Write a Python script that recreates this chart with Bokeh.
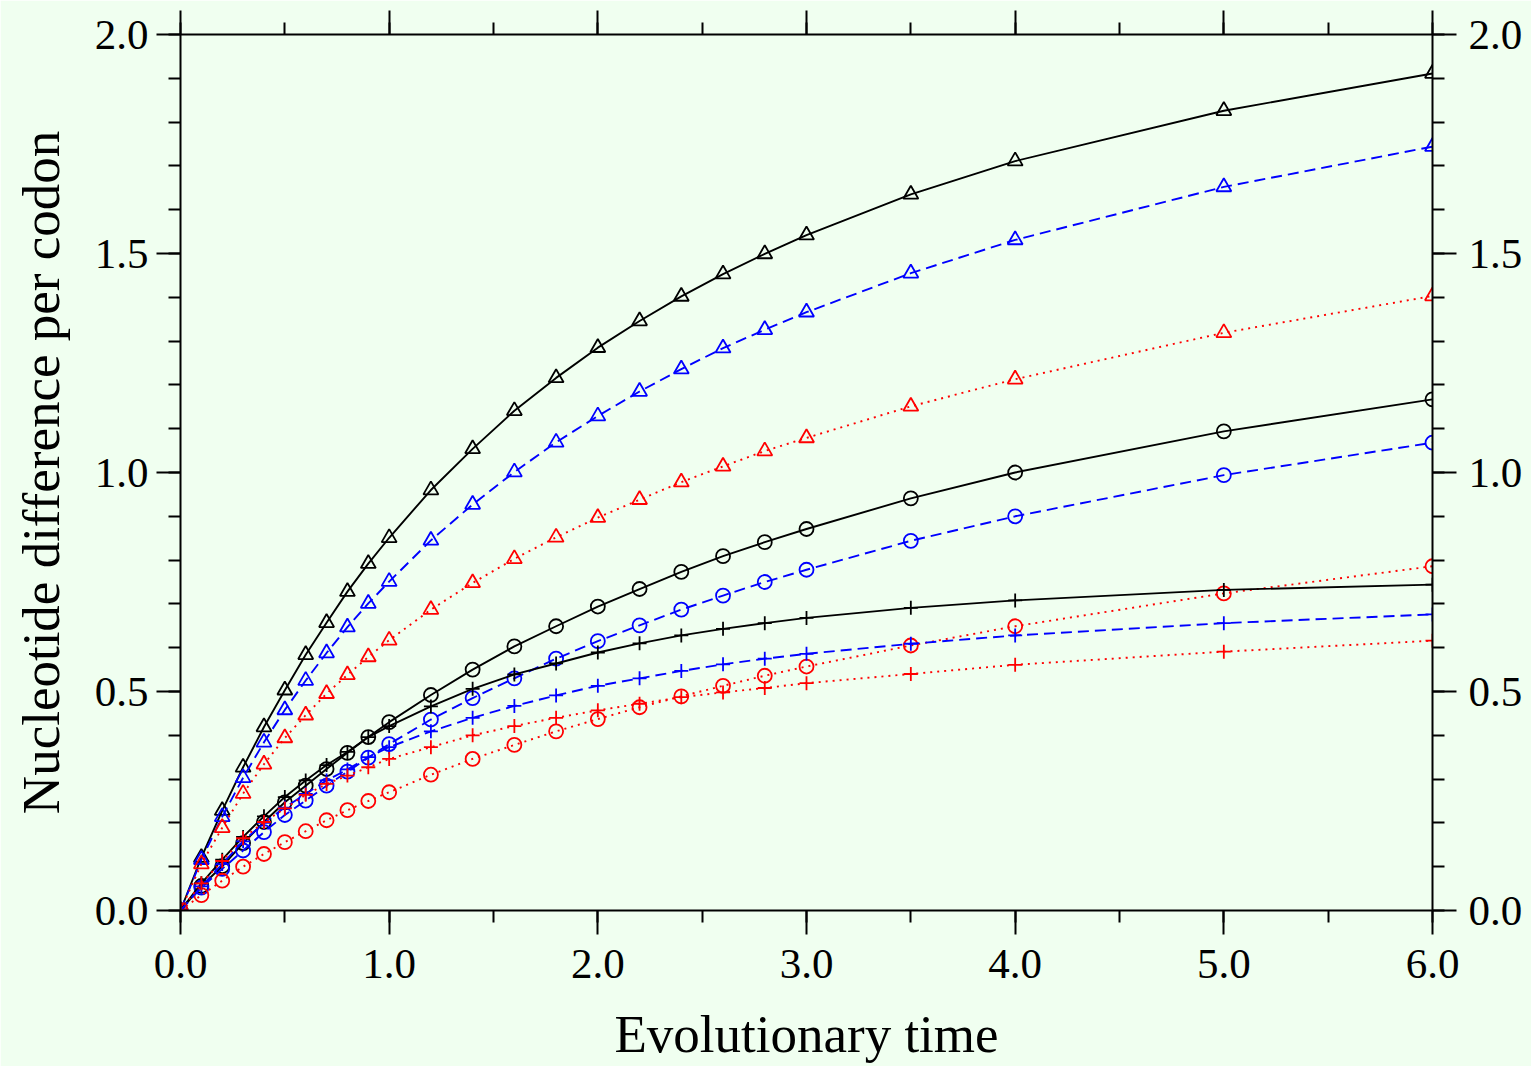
from bokeh.plotting import figure
from bokeh.models import LinearAxis, SingleIntervalTicker, PrintfTickFormatter, CustomJSTickFormatter, Range1d
from bokeh.embed import file_html
from bokeh.resources import INLINE

# ---- data ----
t = [0.0, 0.1, 0.2, 0.3, 0.4, 0.5, 0.6, 0.7, 0.8, 0.9, 1.0, 1.2, 1.4, 1.6, 1.8,
     2.0, 2.2, 2.4, 2.6, 2.8, 3.0, 3.5, 4.0, 5.0, 6.0]

black_tri = [0, 0.121, 0.228, 0.327, 0.419, 0.503, 0.584, 0.657, 0.728, 0.792, 0.851, 0.960, 1.054,
             1.141, 1.216, 1.285, 1.346, 1.402, 1.453, 1.499, 1.542, 1.635, 1.711, 1.826, 1.911]
blue_tri = [0, 0.116, 0.214, 0.303, 0.384, 0.458, 0.525, 0.588, 0.647, 0.701, 0.751, 0.845, 0.927,
            1.001, 1.069, 1.129, 1.185, 1.236, 1.284, 1.326, 1.366, 1.455, 1.531, 1.652, 1.744]
red_tri = [0, 0.106, 0.189, 0.267, 0.334, 0.394, 0.446, 0.495, 0.538, 0.579, 0.617, 0.687, 0.748,
           0.803, 0.852, 0.897, 0.938, 0.978, 1.014, 1.049, 1.079, 1.151, 1.213, 1.319, 1.403]
black_circ = [0, 0.056, 0.101, 0.154, 0.202, 0.247, 0.285, 0.323, 0.360, 0.396, 0.430, 0.492, 0.550,
              0.603, 0.649, 0.694, 0.734, 0.773, 0.809, 0.841, 0.871, 0.941, 1.000, 1.094, 1.167]
blue_circ = [0, 0.052, 0.095, 0.137, 0.179, 0.218, 0.251, 0.285, 0.317, 0.349, 0.380, 0.436, 0.485,
             0.530, 0.575, 0.615, 0.651, 0.687, 0.719, 0.750, 0.778, 0.844, 0.900, 0.994, 1.068]
red_circ = [0, 0.035, 0.068, 0.100, 0.129, 0.156, 0.181, 0.206, 0.229, 0.250, 0.270, 0.310, 0.346,
            0.378, 0.409, 0.437, 0.464, 0.489, 0.513, 0.536, 0.557, 0.605, 0.649, 0.724, 0.786]
black_plus = [0, 0.062, 0.116, 0.168, 0.215, 0.259, 0.297, 0.332, 0.362, 0.396, 0.421, 0.466, 0.506,
              0.539, 0.564, 0.589, 0.610, 0.628, 0.643, 0.656, 0.668, 0.691, 0.708, 0.732, 0.744]
blue_plus = [0, 0.055, 0.106, 0.158, 0.200, 0.235, 0.266, 0.297, 0.322, 0.350, 0.373, 0.409, 0.440,
             0.467, 0.491, 0.513, 0.530, 0.547, 0.562, 0.575, 0.586, 0.609, 0.628, 0.656, 0.676]
red_plus = [0, 0.062, 0.113, 0.165, 0.202, 0.233, 0.264, 0.289, 0.308, 0.327, 0.346, 0.373, 0.400,
            0.421, 0.440, 0.457, 0.472, 0.487, 0.498, 0.508, 0.519, 0.540, 0.561, 0.591, 0.616]

x_title = "Evolutionary time"
y_title = "Nucleotide difference per codon"

BG = "#f0fff0"
FONT = "Liberation Serif"

p = figure(width=1531, height=1066, output_backend="svg", toolbar_location=None,
           x_range=Range1d(0, 6), y_range=Range1d(0, 2),
           background_fill_color=BG, border_fill_color=BG,
           min_border_left=180, min_border_right=99, min_border_top=34, min_border_bottom=156,
           x_axis_label=x_title, y_axis_label=y_title)
p.outline_line_color = None
p.grid.visible = False


def style(ax, interval, nminor):
    ax.ticker = SingleIntervalTicker(interval=interval, num_minor_ticks=nminor)
    ax.axis_line_width = 2
    ax.axis_line_color = "black"
    ax.major_tick_line_width = 2
    ax.minor_tick_line_width = 2
    ax.major_tick_line_color = "black"
    ax.minor_tick_line_color = "black"
    ax.major_tick_in = 0
    ax.major_tick_out = 24
    ax.minor_tick_in = 0
    ax.minor_tick_out = 12
    ax.major_label_text_font = FONT
    ax.major_label_text_font_size = "43px"
    ax.major_label_text_color = "black"
    ax.axis_label_text_font = FONT
    ax.axis_label_text_font_size = "53px"
    ax.axis_label_text_font_style = "normal"
    ax.axis_label_text_color = "black"
    ax.formatter = PrintfTickFormatter(format="%.1f")


xa = p.xaxis[0]
ya = p.yaxis[0]
style(xa, 1, 2)
style(ya, 0.5, 5)
xa.major_label_standoff = 15
xa.axis_label_standoff = 24
ya.major_label_standoff = 8
ya.axis_label_standoff = 22

ra = LinearAxis()
style(ra, 0.5, 5)
ra.major_label_standoff = 12
p.add_layout(ra, "right")

ta = LinearAxis()
style(ta, 1, 2)
ta.formatter = CustomJSTickFormatter(code="return ''")
ta.major_label_text_font_size = "1px"
ta.major_label_standoff = 0
p.add_layout(ta, "above")

series = [
    (black_tri, "black", "solid", "triangle", 15),
    (blue_tri, "blue", "11 6", "triangle", 15),
    (red_tri, "red", "2 5", "triangle", 15),
    (black_circ, "black", "solid", "circle", 14),
    (blue_circ, "blue", "11 6", "circle", 14),
    (red_circ, "red", "2 5", "circle", 14),
    (black_plus, "black", "solid", "cross", 14),
    (blue_plus, "blue", "11 6", "cross", 14),
    (red_plus, "red", "2 5", "cross", 14),
]

for ys, color, dash, marker, size in series:
    p.line(t, ys, line_color=color, line_width=1.9, line_dash=dash)
    p.scatter(t, ys, marker=marker, size=size, line_color=color, fill_color=None, line_width=1.8)

open("out.html", "w").write(file_html(p, INLINE))
